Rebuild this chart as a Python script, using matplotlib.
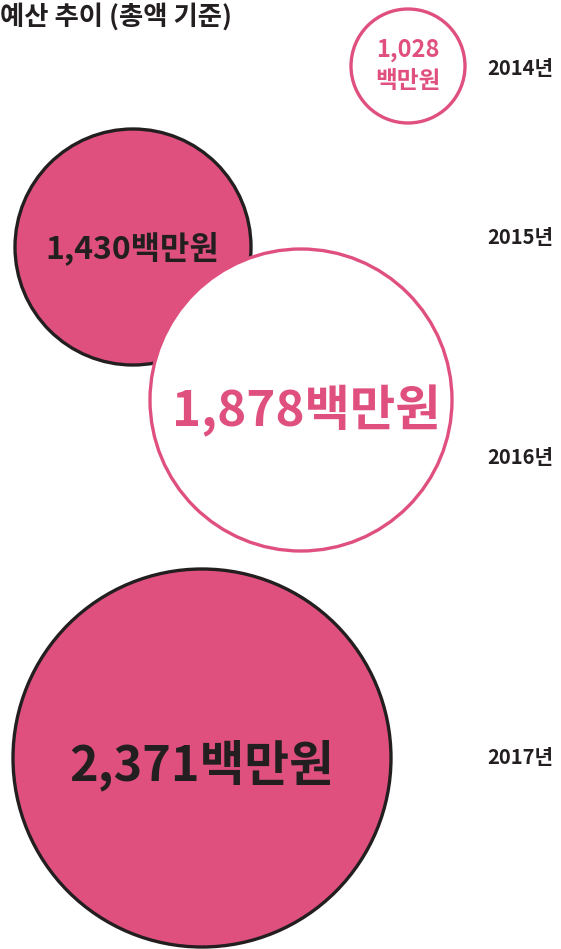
import matplotlib
matplotlib.use("Agg")
import matplotlib.pyplot as plt
from matplotlib.patches import Circle

plt.rcParams['font.family'] = ['Noto Sans CJK KR', 'DejaVu Sans']

# Data
years = ["2014년", "2015년", "2016년", "2017년"]
values = [1028, 1430, 1878, 2371]
title = "예산 추이 (총액 기준)"

# Layout (pixel coordinates)
centers = [(408, 66), (133, 247), (301, 400), (202, 758)]
radii = [57, 118, 151, 189]
filled = [False, True, False, True]
year_y = [68, 237, 457, 757]
label_sizes = [17, 23, 35.5, 35]
label_pos = [None, (132, 248), (306, 411), (202, 765)]

PINK = "#E0507F"
DARK = "#231F20"
W = 'bold'

fig = plt.figure(figsize=(5.61, 9.49), dpi=100)
ax = fig.add_axes([0, 0, 1, 1])
ax.set_xlim(0, 561)
ax.set_ylim(949, 0)
ax.set_aspect('equal')
ax.axis('off')

for i, (v, c, r, f) in enumerate(zip(values, centers, radii, filled)):
    if f:
        circ = Circle(c, r, facecolor=PINK, edgecolor=DARK, lw=2.4, zorder=2 + i)
        tcol = DARK
    else:
        circ = Circle(c, r, facecolor="white", edgecolor=PINK, lw=2.4, zorder=2 + i)
        tcol = PINK
    ax.add_patch(circ)
    s = f"{v:,}"
    if i == 0:
        ax.text(c[0], 50, s, ha='center', va='center', fontsize=label_sizes[i],
                fontweight=W, color=tcol, zorder=10)
        ax.text(c[0], 81, "백만원", ha='center', va='center', fontsize=label_sizes[i],
                fontweight=W, color=tcol, zorder=10)
    else:
        x, y = label_pos[i]
        ax.text(x, y, s + "백만원", ha='center', va='center', fontsize=label_sizes[i],
                fontweight=W, color=tcol, zorder=10)

for y, yl in zip(year_y, years):
    ax.text(553, y, yl, ha='right', va='center', fontsize=14.5, fontweight=W, color=DARK)

ax.text(0, 17, title, ha='left', va='center', fontsize=19, fontweight=W, color=DARK)

fig.savefig("out.png", dpi=100)
